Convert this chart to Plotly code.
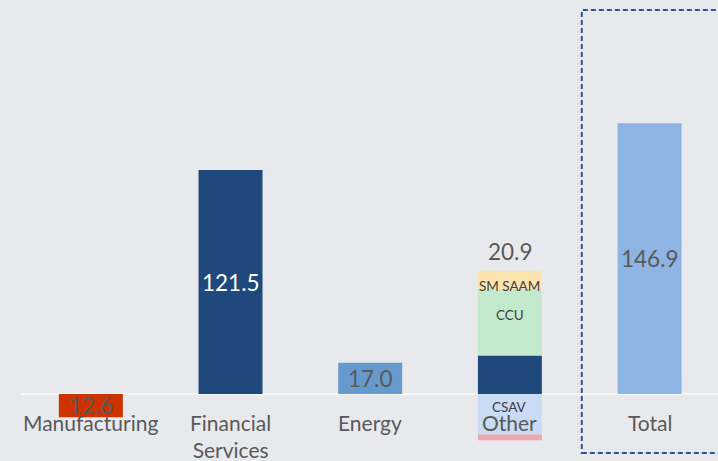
import plotly.graph_objects as go

# ---- data ----
categories = ["Manufacturing", "Financial Services", "Energy", "Other", "Total"]
tick_labels = ["Manufacturing", "Financial<br>Services", "Energy", "Other", "Total"]
values = [-12.6, 121.5, 17.0, 20.9, 146.9]
value_text = ["12.6", "121.5", "17.0", "20.9", "146.9"]

other_parts = ["CCU", "SM SAAM", "CSAV", "Misc"]
other_values = [36.0, 10.0, -22.0, -3.1]

# ---- styles ----
bar_colors = ["#CC3300", "#1F497D", "#6699CC", "#1F497D", "#8DB4E2"]
part_colors = ["#C3EACD", "#FBE3AE", "#C9DBF5", "#EEA8AA"]
label_colors = ["#595959", "#FFFFFF", "#595959", "#595959", "#595959"]
bg = "#E8E9ED"
FONT = "Lato, Carlito, Calibri, sans-serif"

fig = go.Figure()
fig.add_trace(go.Bar(
    x=categories, y=values, marker=dict(color=bar_colors, line=dict(width=0)),
    width=0.458, showlegend=False, hoverinfo="skip"))
for name, v, c in zip(other_parts, other_values, part_colors):
    fig.add_trace(go.Bar(
        x=["Other"], y=[v], name=name, marker=dict(color=c, line=dict(width=0)),
        width=0.458, showlegend=False, hoverinfo="skip"))

annotations = []
# value labels inside bars (except Other, which is above its stack)
for i, (cat, v, t, col) in enumerate(zip(categories, values, value_text, label_colors)):
    if cat == "Other":
        top = v + sum(p for p in other_values if p > 0)
        annotations.append(dict(x=cat, y=top, text=t, showarrow=False, yanchor="bottom",
                                yshift=4, font=dict(family=FONT, size=22.5, color=col)))
    else:
        annotations.append(dict(x=cat, y=v / 2, text=t, showarrow=False, yanchor="middle",
                                font=dict(family=FONT, size=22.5, color=col)))

# labels for the Other components
pos_base = values[3]
neg_base = 0.0
seg_mid = {}
for name, v in zip(other_parts, other_values):
    if v > 0:
        seg_mid[name] = pos_base + v / 2
        pos_base += v
    else:
        seg_mid[name] = neg_base + v / 2
        neg_base += v
small_shift = {"CCU": 7, "SM SAAM": -6, "CSAV": 7}
for name in ["SM SAAM", "CCU", "CSAV"]:
    annotations.append(dict(x="Other", y=seg_mid[name], text=name, showarrow=False,
                            yanchor="middle", yshift=small_shift[name],
                            font=dict(family=FONT, size=13.5, color="#404040")))

# category labels
for cat, lab in zip(categories, tick_labels):
    annotations.append(dict(x=cat, y=0, text=lab, showarrow=False, yanchor="top",
                            yshift=-14, font=dict(family=FONT, size=21, color="#595959")))

scale_px = 224 / 121.5
y_max = 394 / scale_px
y_min = -(461 - 394) / scale_px

fig.update_layout(
    width=718, height=461,
    margin=dict(l=21, r=0, t=0, b=0),
    paper_bgcolor=bg, plot_bgcolor=bg,
    barmode="relative",
    annotations=annotations,
    xaxis=dict(range=[-0.5, 4.49], showticklabels=False, showgrid=False,
               zeroline=False, showline=False, fixedrange=True),
    yaxis=dict(range=[y_min, y_max], showticklabels=False, showgrid=False,
               zeroline=True, zerolinecolor="#F8F8F8", zerolinewidth=2,
               showline=False, fixedrange=True),
    shapes=[dict(type="rect", xref="x", yref="y", x0=3.515, x1=4.7,
                 y0=(394 - 453) / scale_px, y1=(394 - 10) / scale_px,
                 line=dict(color="#2F5597", width=2, dash="5px,3px"), layer="above")],
)

fig.write_html(
    "out.html",
    config={"displayModeBar": False},
    post_script="document.body.style.margin='0';document.body.style.overflow='hidden';",
)
